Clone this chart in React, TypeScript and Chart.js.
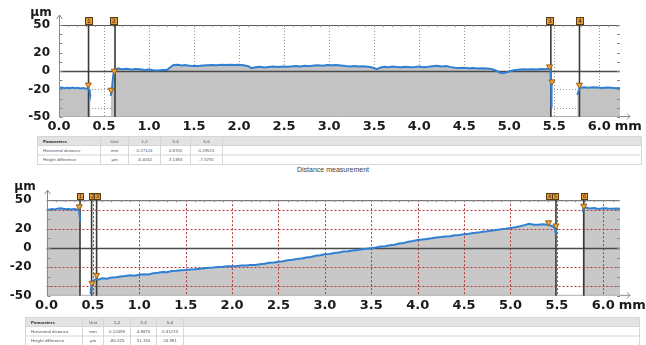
import React, { useEffect, useRef } from "react";
import { Chart, registerables } from "chart.js";
Chart.register(...registerables);

// ---------------- data ----------------
const xTickValues = [0, 0.5, 1, 1.5, 2, 2.5, 3, 3.5, 4, 4.5, 5, 5.5, 6];
const yTickValues = [50, 20, 0, -20, -50];
const vGridValues = [0.5, 1, 1.5, 2, 2.5, 3, 3.5, 4, 4.5, 5, 5.5, 6];

// top profile (mm, µm); null = no data
const topProfile: [number, number | null][] = [
  [0.0, -18.5], [0.03, -18.0], [0.06, -18.8], [0.09, -18.2], [0.12, -18.6], [0.15, -18.0], [0.18, -18.7], [0.21, -18.3],
  [0.24, -18.9], [0.27, -18.4], [0.3, -19.2], [0.32, -18.7], [0.335, -20.5], [0.343, -24.0], [0.35, -28.0],
  [0.45, null],
  [0.575, -27.0], [0.585, -22.0], [0.595, -12.0], [0.603, -4.0], [0.612, -1.0], [0.625, 1.2], [0.66, 2.8], [0.7, 1.8],
  [0.75, 2.4], [0.8, 1.6], [0.85, 2.2], [0.9, 1.9], [0.95, 1.0], [1.0, 1.6], [1.05, 0.8], [1.1, 0.5], [1.15, 1.0],
  [1.2, 1.2], [1.23, 3.5], [1.27, 6.5], [1.32, 6.8], [1.36, 6.0], [1.4, 6.4], [1.45, 5.8], [1.5, 5.5], [1.55, 5.4],
  [1.6, 5.9], [1.65, 6.3], [1.7, 6.6], [1.75, 6.2], [1.8, 6.8], [1.85, 6.4], [1.9, 6.9], [1.95, 6.6], [2.0, 6.8],
  [2.05, 6.3], [2.1, 5.2], [2.14, 3.0], [2.18, 4.0], [2.23, 4.6], [2.28, 3.9], [2.33, 4.4], [2.38, 4.8], [2.43, 4.3],
  [2.48, 5.0], [2.53, 4.6], [2.58, 4.9], [2.63, 5.3], [2.68, 4.8], [2.73, 5.6], [2.78, 5.2], [2.83, 5.9], [2.88, 6.3],
  [2.93, 5.8], [2.98, 6.5], [3.03, 6.2], [3.08, 6.6], [3.13, 6.0], [3.18, 5.4], [3.23, 5.0], [3.28, 5.3], [3.33, 4.8],
  [3.38, 5.1], [3.43, 4.6], [3.48, 3.8], [3.53, 2.0], [3.57, 3.9], [3.62, 4.6], [3.66, 4.2], [3.7, 4.8], [3.75, 4.4],
  [3.8, 4.0], [3.85, 4.6], [3.9, 4.1], [3.95, 4.4], [4.0, 5.0], [4.05, 4.2], [4.1, 4.6], [4.15, 5.2], [4.2, 5.6],
  [4.25, 5.0], [4.3, 5.4], [4.35, 4.2], [4.4, 3.6], [4.45, 3.2], [4.5, 3.4], [4.55, 3.0], [4.6, 3.3], [4.65, 2.8],
  [4.7, 3.1], [4.75, 2.6], [4.8, 2.2], [4.85, 0.5], [4.9, -2.0], [4.93, -2.5], [4.97, -1.5], [5.0, -0.5], [5.05, 0.8],
  [5.1, 1.5], [5.15, 1.9], [5.2, 1.6], [5.25, 2.0], [5.3, 1.7], [5.35, 2.2], [5.4, 2.0], [5.44, 2.6], [5.455, 3.5],
  [5.46, -5.0], [5.465, -12.0], [5.47, -40.0],
  [5.6, null],
  [5.755, -26.0], [5.77, -22.0], [5.78, -18.5], [5.83, -17.8], [5.88, -18.2], [5.93, -17.6], [5.98, -18.0],
  [6.03, -18.4], [6.08, -17.9], [6.13, -18.3], [6.18, -18.8], [6.23, -18.5],
];
const topMarkerPoints: [number, number][] = [
  [0.326, -15.0], [0.578, -20.6], [0.615, 0.0], [5.448, 4.7], [5.475, -11.6], [5.78, -15.2],
];
const topMarkerLines = [0.328, 0.622, 5.462, 5.78];
const topTagX = [0.33, 0.6, 5.45, 5.78];
const topTagText = ["1", "2", "3", "4"];

// bottom profile
const bottomProfile: [number, number | null][] = [
  [0.0, 40.5], [0.03, 40.1], [0.06, 40.8], [0.09, 40.3], [0.12, 41.2], [0.15, 41.6], [0.18, 41.0], [0.21, 40.6],
  [0.24, 40.9], [0.27, 40.4], [0.3, 40.8], [0.33, 40.2], [0.35, 39.8], [0.356, 35.0], [0.362, 28.0],
  [0.42, null],
  [0.475, -48.0], [0.48, -42.0], [0.486, -37.0], [0.5, -34.5], [0.52, -33.2], [0.54, -32.0], [0.56, -33.1],
  [0.6, -31.6], [0.65, -32.2], [0.7, -30.9], [0.75, -30.7], [0.8, -29.8], [0.85, -29.4], [0.9, -28.6], [0.95, -28.9],
  [1.0, -28.0], [1.05, -27.4], [1.1, -27.6], [1.15, -26.4], [1.2, -26.0], [1.25, -25.1], [1.3, -25.3], [1.35, -24.1],
  [1.4, -23.9], [1.45, -23.2], [1.5, -22.9], [1.55, -22.4], [1.6, -22.3], [1.65, -21.6], [1.7, -21.3], [1.75, -20.7],
  [1.8, -20.5], [1.85, -19.9], [1.9, -19.7], [1.95, -19.2], [2.0, -19.0], [2.05, -18.9], [2.1, -18.3], [2.15, -18.4],
  [2.2, -17.8], [2.25, -17.7], [2.3, -16.9], [2.35, -16.5], [2.4, -15.5], [2.45, -15.1], [2.5, -14.3], [2.55, -13.9],
  [2.6, -12.9], [2.65, -12.4], [2.7, -11.4], [2.75, -10.9], [2.8, -9.9], [2.85, -9.3], [2.9, -8.2], [2.95, -7.6],
  [3.0, -6.6], [3.05, -6.3], [3.1, -5.2], [3.15, -4.7], [3.2, -3.7], [3.25, -3.3], [3.3, -2.5], [3.35, -2.0],
  [3.4, -1.3], [3.45, -0.9], [3.5, -0.2], [3.55, 0.5], [3.6, 1.5], [3.65, 1.9], [3.7, 3.0], [3.75, 3.5], [3.8, 4.7],
  [3.85, 5.3], [3.9, 6.6], [3.95, 7.4], [4.0, 8.4], [4.05, 8.9], [4.1, 9.5], [4.15, 10.1], [4.2, 11.0], [4.25, 11.4],
  [4.3, 12.1], [4.35, 12.3], [4.4, 13.3], [4.45, 13.7], [4.5, 14.5], [4.55, 14.9], [4.6, 15.8], [4.65, 16.1],
  [4.7, 17.1], [4.75, 17.5], [4.8, 18.4], [4.85, 18.9], [4.9, 19.6], [4.95, 20.1], [5.0, 20.9], [5.05, 21.7],
  [5.1, 22.7], [5.15, 23.9], [5.2, 25.3], [5.25, 24.3], [5.3, 24.3], [5.35, 24.9], [5.4, 24.3], [5.44, 23.3],
  [5.47, 22.0], [5.48, 19.0], [5.49, 14.0],
  [5.6, null],
  [5.775, 38.0], [5.785, 41.5], [5.8, 42.5], [5.85, 41.4], [5.9, 41.8], [5.95, 40.9], [6.0, 41.6], [6.05, 41.2],
  [6.1, 41.0], [6.15, 41.4], [6.18, 41.0],
];
const bottomMarkerPoints: [number, number][] = [
  [0.353, 43.3], [0.49, -36.7], [0.54, -28.4], [5.41, 26.6], [5.49, 23.3], [5.79, 44.0],
];
const bottomMarkerLines = [0.361, 0.486, 0.54, 5.49, 5.79];
const bottomTagX = [0.36, 0.485, 0.545, 5.41, 5.48, 5.79];
const bottomTagText = ["1", "2", "3", "4", "5", "6"];

// tables
const tableHeader = ["Parameters", "Unit", "1-2", "3-4", "5-6", ""];
const topTableRows = [
  ["Horizontal distance", "mm", "0.27124", "4.8705", "0.29515", ""],
  ["Height difference", "µm", "-6.4032", "3.1383", "-7.5791", ""],
];
const bottomTableRows = [
  ["Horizontal distance", "mm", "0.12498", "4.8870", "0.31274", ""],
  ["Height difference", "µm", "-80.325", "51.740", "20.991", ""],
];
const captionText = "Distance measurement";

// ---------------- chart ----------------
const W = 646;

type Spec = {
  profile: [number, number | null][];
  points: [number, number][];
  lines: number[];
  tagX: number[];
  tagText: string[];
  tagSize: number;
  xMax: number;
  box: { left: number; right: number; top: number; bottom: number };
  height: number;
  yPad: number;
  gridColor: string;
  gridDash: number[];
  gridOnTop: boolean;
  hGrid: number[];
  fillColor: string;
  unitPos: [number, number];
};

function seg(ctx: CanvasRenderingContext2D, x1: number, y1: number, x2: number, y2: number) {
  ctx.beginPath();
  ctx.moveTo(x1, y1);
  ctx.lineTo(x2, y2);
  ctx.stroke();
}

function drawGrid(chart: any, s: Spec) {
  const { ctx, chartArea: a, scales } = chart;
  const x = scales.x, y = scales.y;
  ctx.save();
  ctx.strokeStyle = s.gridColor;
  ctx.lineWidth = 1;
  ctx.setLineDash(s.gridDash);
  for (const v of vGridValues) {
    const px = Math.round(x.getPixelForValue(v)) + 0.5;
    seg(ctx, px, a.top, px, a.bottom);
  }
  for (const v of s.hGrid) {
    const py = Math.round(y.getPixelForValue(v)) + 0.5;
    seg(ctx, a.left, py, a.right, py);
  }
  ctx.restore();
}

function decor(s: Spec) {
  return {
    id: "decor",
    beforeDraw(chart: any) {
      if (!s.gridOnTop) drawGrid(chart, s);
    },
    afterDatasetDraw(chart: any, args: any) {
      if (args.index !== 0) return;
      const { ctx, chartArea: a, scales } = chart;
      const x = scales.x, y = scales.y;
      if (s.gridOnTop) drawGrid(chart, s);
      ctx.save();
      const y0 = Math.round(y.getPixelForValue(0)) + 0.5;
      ctx.strokeStyle = "#4a4a4a";
      ctx.lineWidth = 1.4;
      seg(ctx, a.left, y0, a.right, y0);
      ctx.strokeStyle = "#5a5a5a";
      ctx.lineWidth = 1;
      seg(ctx, a.left, a.top + 0.5, a.right, a.top + 0.5);
      ctx.strokeStyle = "#b0b0b0";
      seg(ctx, a.left, a.bottom - 0.5, a.right, a.bottom - 0.5);
      ctx.strokeStyle = "#3a3a3a";
      ctx.lineWidth = 1.6;
      for (const m of s.lines) {
        const px = x.getPixelForValue(m);
        seg(ctx, px, a.top - s.tagSize, px, a.bottom);
      }
      ctx.restore();
    },
    afterDraw(chart: any) {
      const { ctx, chartArea: a, scales } = chart;
      const x = scales.x, y = scales.y;
      ctx.save();
      const ax = Math.round(a.left) + 0.5;
      ctx.strokeStyle = "#8a8a8a";
      ctx.lineWidth = 1;
      seg(ctx, ax, a.top - 10, ax, a.bottom);
      ctx.beginPath();
      ctx.moveTo(ax - 3, a.top - 6);
      ctx.lineTo(ax, a.top - 10);
      ctx.lineTo(ax + 3, a.top - 6);
      ctx.stroke();
      for (let v = -50; v <= 50; v += 10) {
        const py = Math.round(y.getPixelForValue(v)) + 0.5;
        seg(ctx, ax, py, ax + 3, py);
        seg(ctx, a.right - 3, py, a.right, py);
      }
      for (let i = 1; i * 0.1 < s.xMax; i++) {
        const px = Math.round(x.getPixelForValue(i * 0.1)) + 0.5;
        seg(ctx, px, a.top, px, a.top + 2);
      }
      // x arrow
      const by = a.bottom - 0.5;
      seg(ctx, a.right, by, a.right + 10, by);
      ctx.beginPath();
      ctx.moveTo(a.right + 7, by - 3);
      ctx.lineTo(a.right + 10, by);
      ctx.lineTo(a.right + 7, by + 3);
      ctx.stroke();
      // tags
      const t = s.tagSize;
      s.tagX.forEach((v, i) => {
        const px = x.getPixelForValue(v);
        const lx = Math.round(px - t / 2) + 0.5;
        const ty = Math.round(a.top - t - 1) + 0.5;
        ctx.fillStyle = "#e29a3c";
        ctx.fillRect(lx, ty, t, t);
        ctx.strokeStyle = "#5a3c12";
        ctx.lineWidth = 1;
        ctx.strokeRect(lx, ty, t, t);
        ctx.fillStyle = "#3a2508";
        ctx.font = `${t - 1}px "DejaVu Sans"`;
        ctx.textAlign = "center";
        ctx.textBaseline = "middle";
        ctx.fillText(s.tagText[i], lx + t / 2, ty + t / 2 + 0.5);
      });
      // unit
      ctx.fillStyle = "#1a1a1a";
      ctx.font = 'bold 12px "DejaVu Sans"';
      ctx.textAlign = "center";
      ctx.textBaseline = "middle";
      ctx.fillText("µm", s.unitPos[0], s.unitPos[1]);
      // mm after 6.0
      ctx.font = 'bold 13px "DejaVu Sans"';
      const x6 = x.getPixelForValue(6);
      const w = ctx.measureText("6.0").width;
      ctx.textAlign = "left";
      ctx.fillText("mm", x6 + w / 2 + 4, a.bottom + 2 + 7.8);
      ctx.restore();
    },
  };
}

function buildConfig(s: Spec): any {
  const pts = s.profile.map(([x, y]) => ({ x, y }));
  return {
    type: "line",
    data: {
      datasets: [
        {
          data: pts,
          order: 2,
          fill: "start",
          backgroundColor: s.fillColor,
          borderWidth: 0,
          borderColor: "rgba(0,0,0,0)",
          pointRadius: 0,
          spanGaps: false,
        },
        {
          data: pts,
          order: 1,
          fill: false,
          borderColor: "#2f80d2",
          borderWidth: 2,
          pointRadius: 0,
          spanGaps: false,
          tension: 0,
        },
        {
          data: s.points.map(([x, y]) => ({ x, y })),
          order: 0,
          showLine: false,
          fill: false,
          pointStyle: "triangle",
          pointRotation: 180,
          pointRadius: 3.5,
          pointBackgroundColor: "#f0a63e",
          pointBorderColor: "#9a5c12",
          pointBorderWidth: 1,
          clip: false,
        },
      ],
    },
    options: {
      responsive: false,
      animation: false,
      devicePixelRatio: 1,
      events: [],
      layout: { padding: { left: 0, top: s.box.top, right: W - s.box.right, bottom: 0 } },
      plugins: { legend: { display: false }, tooltip: { enabled: false } },
      scales: {
        x: {
          type: "linear",
          min: 0,
          max: s.xMax,
          afterFit: (sc: any) => {
            sc.height = s.height - s.box.bottom;
          },
          afterBuildTicks: (sc: any) => {
            sc.ticks = xTickValues.map((v) => ({ value: v }));
          },
          grid: { display: false, drawTicks: false },
          border: { display: false },
          ticks: {
            autoSkip: false,
            maxRotation: 0,
            padding: 2,
            color: "#1a1a1a",
            font: { family: "DejaVu Sans", weight: "bold", size: 13 },
            callback: (v: any) => Number(v).toFixed(1),
          },
        },
        y: {
          type: "linear",
          min: -50,
          max: 50,
          afterFit: (sc: any) => {
            sc.width = s.box.left;
          },
          afterBuildTicks: (sc: any) => {
            sc.ticks = yTickValues.map((v) => ({ value: v }));
          },
          grid: { display: false, drawTicks: false },
          border: { display: false },
          ticks: {
            padding: s.yPad,
            color: "#1a1a1a",
            font: { family: "DejaVu Sans", weight: "bold", size: 12 },
            callback: (v: any) => String(v),
          },
        },
      },
    },
    plugins: [decor(s)],
  };
}

function ProfileChart({ spec, top }: { spec: Spec; top: number }) {
  const ref = useRef<HTMLCanvasElement | null>(null);
  useEffect(() => {
    if (!ref.current) return;
    const chart = new Chart(ref.current, buildConfig(spec));
    return () => chart.destroy();
  }, [spec]);
  return (
    <canvas
      ref={ref}
      width={W}
      height={spec.height}
      style={{ position: "absolute", left: 0, top, width: W, height: spec.height, display: "block" }}
    />
  );
}

const topSpec: Spec = {
  profile: topProfile,
  points: topMarkerPoints,
  lines: topMarkerLines,
  tagX: topTagX,
  tagText: topTagText,
  tagSize: 7,
  xMax: 6.23,
  box: { left: 59, right: 620, top: 25, bottom: 117 },
  height: 136,
  yPad: 9,
  gridColor: "#9a9a9a",
  gridDash: [1, 2],
  gridOnTop: false,
  hGrid: [-20, -40],
  fillColor: "#c3c3c3",
  unitPos: [41, 13],
};

const bottomSpec: Spec = {
  profile: bottomProfile,
  points: bottomMarkerPoints,
  lines: bottomMarkerLines,
  tagX: bottomTagX,
  tagText: bottomTagText,
  tagSize: 6,
  xMax: 6.18,
  box: { left: 46.5, right: 620, top: 20, bottom: 120 },
  height: 140,
  yPad: 15,
  gridColor: "#b23a3a",
  gridDash: [2, 2],
  gridOnTop: true,
  hGrid: [40, 20, -20, -40],
  fillColor: "#c8c8c8",
  unitPos: [25, 9],
};

// ---------------- tables ----------------
function DataTable({
  left,
  top,
  widths,
  rows,
}: {
  left: number;
  top: number;
  widths: number[];
  rows: string[][];
}) {
  const S = 2;
  const total = widths.reduce((p, c) => p + c, 0) * S;
  const cell = (txt: string, ci: number, header: boolean, h: number) => (
    <td
      key={ci}
      style={{
        height: h * S,
        padding: 0,
        paddingLeft: ci === 0 ? 10 : 0,
        textAlign: ci === 0 ? "left" : "center",
        border: "2px solid #d6d6d6",
        color: header && ci === 0 ? "#222" : "#555",
        fontWeight: header && ci === 0 ? "bold" : "normal",
        whiteSpace: "nowrap",
        overflow: "hidden",
        lineHeight: `${h * S - 2}px`,
      }}
    >
      {txt}
    </td>
  );
  return (
    <div
      style={{
        position: "absolute",
        left,
        top,
        transform: `scale(${1 / S})`,
        transformOrigin: "0 0",
      }}
    >
      <table
        style={{
          borderCollapse: "collapse",
          tableLayout: "fixed",
          width: total,
          fontFamily: '"Liberation Sans", Arial, sans-serif',
          fontSize: 8.8,
        }}
      >
        <colgroup>
          {widths.map((w, i) => (
            <col key={i} style={{ width: w * S }} />
          ))}
        </colgroup>
        <tbody>
          <tr style={{ background: "#e3e3e3" }}>{tableHeader.map((t, i) => cell(t, i, true, 8))}</tr>
          {rows.map((r, ri) => (
            <tr key={ri} style={{ background: "#fff" }}>
              {r.map((t, i) => cell(t, i, false, 8.5))}
            </tr>
          ))}
        </tbody>
      </table>
    </div>
  );
}

export default function App() {
  return (
    <div
      style={{
        position: "absolute",
        left: 0,
        top: 0,
        width: W,
        height: 345,
        overflow: "hidden",
        background: "#fff",
      }}
    >
      <ProfileChart spec={topSpec} top={0} />
      <DataTable left={37} top={136} widths={[63, 28, 32, 30, 32, 419]} rows={topTableRows} />
      <div
        style={{
          position: "absolute",
          left: 297,
          top: 165,
          transform: "scale(0.5)",
          transformOrigin: "0 0",
          fontFamily: '"Liberation Sans", Arial, sans-serif',
          fontSize: 14,
          color: "#444",
          whiteSpace: "nowrap",
        }}
      >
        {captionText}
      </div>
      <ProfileChart spec={bottomSpec} top={178} />
      <DataTable left={25} top={317} widths={[57, 21, 27, 26, 27, 456]} rows={bottomTableRows} />
    </div>
  );
}
